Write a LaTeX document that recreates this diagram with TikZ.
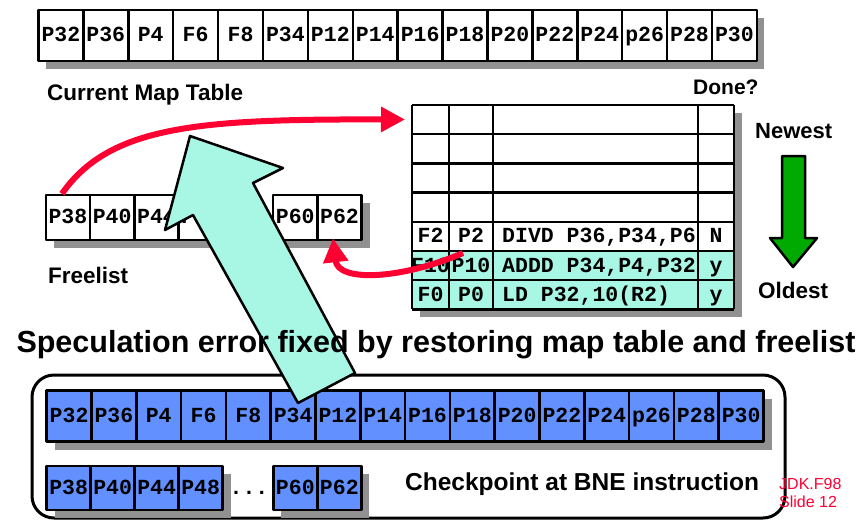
\documentclass[tikz,border=0pt]{standalone}
\usepackage{fontspec}
\setmainfont{Liberation Sans}
\setmonofont{Liberation Mono}
\usetikzlibrary{arrows.meta}
\definecolor{robcyan}{RGB}{168,246,228}
\definecolor{ckblue}{RGB}{98,144,255}
\definecolor{arrred}{RGB}{255,0,51}
\definecolor{arrgreen}{RGB}{0,170,0}
\definecolor{shadowgray}{RGB}{145,145,145}
\newcommand\regfont{\ttfamily\bfseries\fontsize{21.5}{21.5}\selectfont}
\newcommand\lblfont[1]{\bfseries\fontsize{#1}{#1}\selectfont}
\begin{document}
\begin{tikzpicture}[x=1pt,y=-1pt,line join=round,>=stealth]
	\tikzset{regcell/.style={draw,line width=2.5pt,fill=white,minimum width=44.9pt,minimum height=51pt,
			inner sep=0pt,text height=12pt,text depth=0pt,font=\regfont},
		ckcell/.style={regcell,fill=ckblue},
		robtxt/.style={inner sep=0pt,anchor=base,font=\regfont},
		lbl/.style={inner sep=0pt,anchor=base west},
		redarr/.style={draw=arrred,line width=6pt,-{Triangle[length=24pt,width=24pt]}}}
	\useasboundingbox (0,0) rectangle (867,520);
	% current map table
	\fill[shadowgray] (46,18) rectangle (764,69);
	\foreach \x/\nx in {0/P32,1/P36,2/P4,3/F6,4/F8,5/P34,6/P12,7/P14,8/P16,9/P18,10/P20,11/P22,12/P24,13/p26,14/P28,15/P30}
	\node[regcell] (map\x) at ({60.9+44.9*\x},35.5) {\nx};
	\node[lbl,font=\lblfont{22.5}] (maplbl) at (47,100) {Current Map Table};
	% freelist
	\fill[shadowgray] (54,203) rectangle (231,248);
	\fill[shadowgray] (281,203) rectangle (370,248);
	\foreach \x/\nx in {0/P38,1/P40,2/P44,3/P48}
	\node[regcell,minimum width=44.3pt,minimum height=45pt] (free\x) at ({67.9+44.3*\x},217.5) {\nx};
	\node[regcell,minimum width=44.3pt,minimum height=45pt] (free4) at (295.2,217.5) {P60};
	\node[regcell,minimum width=44.3pt,minimum height=45pt] (free5) at (339.5,217.5) {P62};
	\node[inner sep=0pt,font=\regfont] (freedots) at (249,222) {...};
	\node[lbl,font=\lblfont{22.5}] (freelbl) at (48,283) {Freelist};
	% reorder buffer
	\fill[shadowgray] (420,113) rectangle (742,317);
	\fill[white] (412,105) rectangle (734,309.4);
	\fill[robcyan] (412,251.4) rectangle (734,309.4);
	\foreach \k in {0,...,7}
	\draw[line width=2.5pt] (412,{105+29.2*\k}) -- (734,{105+29.2*\k});
	\foreach \x in {412,449,493,698,734}
	\draw[line width=2.5pt] (\x,105) -- (\x,309.4);
	\foreach \k/\a/\b/\ins/\d in {4/F2/P2/{DIVD P36,P34,P6}/N,5/F10/P10/{ADDD P34,P4,P32}/y,6/F0/P0/{LD P32,10(R2)}/y}
	{
		\node[robtxt] (ra\k) at (430.5,{105+29.2*(\k+0.5)+6.5}) {\a};
		\node[robtxt] (rb\k) at (471,{105+29.2*(\k+0.5)+6.5}) {\b};
		\node[robtxt,anchor=base west] (ri\k) at (502,{105+29.2*(\k+0.5)+6.5}) {\ins};
		\node[robtxt] (rd\k) at (716,{105+29.2*(\k+0.5)+6.5}) {\d};
	}
	\coordinate (rob0) at (405,119.5);
	\coordinate (p10tail) at (463,253);
	\node[lbl,font=\lblfont{21}] (donelbl) at (693,94) {Done?};
	% allocation and release
	\draw[redarr] ([xshift=-6pt]free0.north) .. controls (110,125) and (200,119) .. (rob0);
	\draw[redarr] (p10tail) .. controls (400,280) and (338,282) .. ([xshift=-6.5pt,yshift=3pt]free5.south);
	% age of entries
	\node[lbl,font=\lblfont{22}] (newest) at (755,138) {Newest};
	\node[lbl,font=\lblfont{22.5}] (oldest) at (758,298) {Oldest};
	\draw[line width=2.5pt,fill=arrgreen] (782,156) -- (805,156) -- (805,238) -- (817,238)
		-- (793,267) -- (770,238) -- (782,238) -- cycle;
	% checkpoint
	\draw[line width=3pt,rounded corners=22pt] (32,375) rectangle (785,518);
	\fill[shadowgray] (55,399) rectangle (772,450);
	\foreach \x/\nx in {0/P32,1/P36,2/P4,3/F6,4/F8,5/P34,6/P12,7/P14,8/P16,9/P18,10/P20,11/P22,12/P24,13/p26,14/P28,15/P30}
	\node[ckcell,minimum width=44.8pt] (ck\x) at ({69.1+44.8*\x},416.2) {\nx};
	\fill[shadowgray] (55,474) rectangle (231,518);
	\fill[shadowgray] (281,474) rectangle (369,518);
	\foreach \x/\nx in {0/P38,1/P40,2/P44,3/P48}
	\node[ckcell,minimum width=44pt,minimum height=44pt] (ckf\x) at ({68.7+44*\x},488) {\nx};
	\node[ckcell,minimum width=44pt,minimum height=44pt] (ckf4) at (295.3,488) {P60};
	\node[ckcell,minimum width=44pt,minimum height=44pt] (ckf5) at (339.3,488) {P62};
	\node[inner sep=0pt,font=\regfont] (ckdots) at (249,493) {...};
	\node[lbl,font=\lblfont{24.5}] (cklbl) at (405,490) {Checkpoint at BNE instruction};
	% restore
	\draw[line width=2.5pt,fill=robcyan] (298,403) -- (193,215) -- (165,230) -- (190,136)
		-- (283,168) -- (253,183) -- (355,373) -- cycle;
	\node[inner sep=0pt,anchor=base,font=\lblfont{30.5}] (fixlbl) at (436,352)
		{Speculation error fixed by restoring map table and freelist};
	\node[lbl,text=arrred,font=\fontsize{16}{16}\selectfont] (sig1) at (779,489) {JDK.F98};
	\node[lbl,text=arrred,font=\fontsize{16}{16}\selectfont] (sig2) at (779,507) {Slide 12};
\end{tikzpicture}
\end{document}
